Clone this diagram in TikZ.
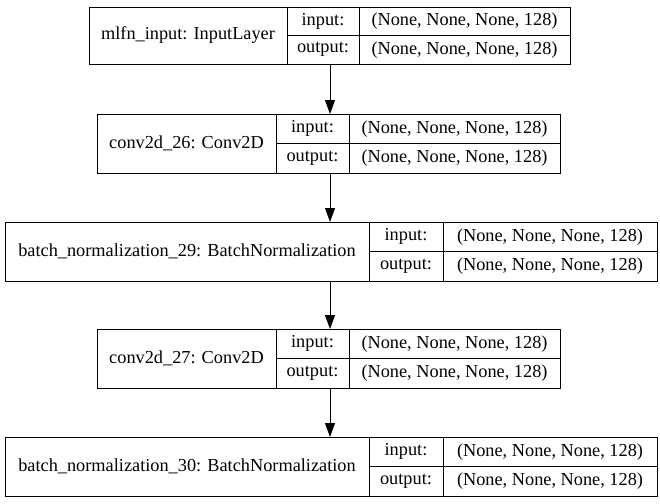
\documentclass[tikz,border=0pt]{standalone}
\usepackage{fontspec}
\setmainfont{Liberation Serif}
\usetikzlibrary{arrows.meta}
\tikzset{
  cell/.style={draw=black, line width=0.9pt, inner sep=0pt, outer sep=0pt, font=\fontsize{18.3}{20}\selectfont},
  whole/.style={inner sep=0pt, outer sep=0pt},
  arr/.style={draw=black, line width=1pt, -{Triangle[length=14pt,width=10pt]}}
}
% #1 name, #2 x0, #3 x1, #4 x2, #5 x3, #6 ytop, #7 ybot, #8 label
\newcommand\layerbox[8]{%
  \node[whole, minimum width={#5-#2}, minimum height={#7-#6}] (#1) at ({(#2+#5)/2},{-(#6+#7)/2}) {};
  \node[cell, minimum width={#3-#2}, minimum height={#7-#6}] (#1-n) at ({(#2+#3)/2},{-(#6+#7)/2}) {#8};
  \node[cell, minimum width={#4-#3}, minimum height={(#7-#6)/2}] (#1-il) at ({(#3+#4)/2},{-(3*#6+#7)/4}) {input:};
  \node[cell, minimum width={#4-#3}, minimum height={(#7-#6)/2}] (#1-ol) at ({(#3+#4)/2},{-(#6+3*#7)/4}) {output:};
  \node[cell, minimum width={#5-#4}, minimum height={(#7-#6)/2}] (#1-iv) at ({(#4+#5)/2},{-(3*#6+#7)/4}) {(None, None, None, 128)};
  \node[cell, minimum width={#5-#4}, minimum height={(#7-#6)/2}] (#1-ov) at ({(#4+#5)/2},{-(#6+3*#7)/4}) {(None, None, None, 128)};
}
\begin{document}
\begin{tikzpicture}[x=1pt,y=1pt]
\useasboundingbox (0,0) rectangle (660,-503);
\layerbox{L1}{89}{287}{359}{570}{7}{64}{mlfn\_input: InputLayer}
\layerbox{L2}{97}{276}{349}{560}{114}{173}{conv2d\_26: Conv2D}
\layerbox{L3}{5}{369}{443}{657}{222}{281}{batch\_normalization\_29: BatchNormalization}
\layerbox{L4}{97}{276}{349}{560}{329}{388}{conv2d\_27: Conv2D}
\layerbox{L5}{5}{369}{443}{657}{437}{496}{batch\_normalization\_30: BatchNormalization}
\coordinate (c) at (330,0);
\draw[arr] (c |- L1.south) -- (c |- L2.north);
\draw[arr] (c |- L2.south) -- (c |- L3.north);
\draw[arr] (c |- L3.south) -- (c |- L4.north);
\draw[arr] (c |- L4.south) -- (c |- L5.north);
\end{tikzpicture}
\end{document}
